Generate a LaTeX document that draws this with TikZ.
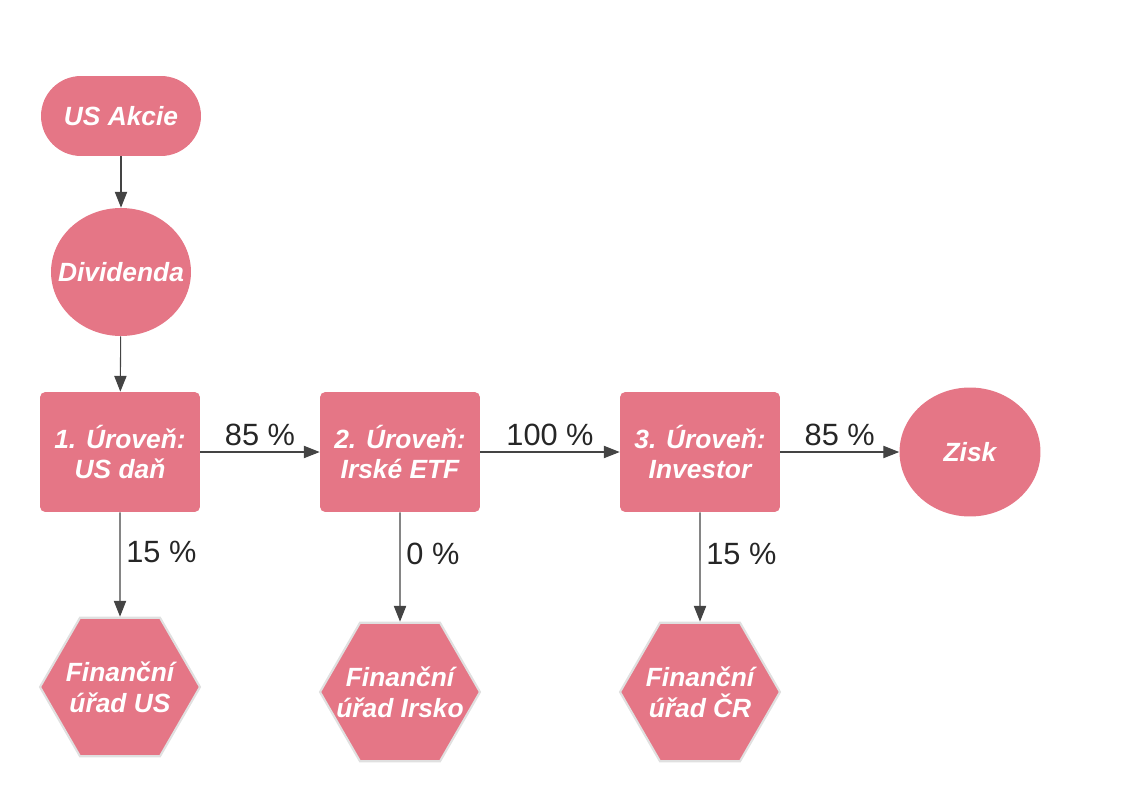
\documentclass[tikz,border=0pt]{standalone}
\usepackage{fontspec}
\setmainfont{Liberation Sans}
\usetikzlibrary{shapes.geometric, arrows.meta}
\definecolor{boxpink}{HTML}{E57686}
\definecolor{linegray}{HTML}{444444}
\begin{document}
\begin{tikzpicture}[x=0.02cm, y=-0.02cm,
		pinkbox/.style={fill=boxpink, draw=none, text=white, font=\fontsize{15}{17.5}\selectfont\bfseries\itshape, align=center, inner sep=0pt},
		stadium/.style={pinkbox, rectangle, rounded corners=0.8cm, minimum width=3.2cm, minimum height=1.6cm},
		level/.style={pinkbox, rectangle, rounded corners=3pt, minimum width=3.2cm, minimum height=2.4cm},
		oval/.style={pinkbox, ellipse, inner sep=-0.4cm, minimum width=2.82cm, minimum height=2.58cm},
		office/.style={pinkbox, regular polygon, regular polygon sides=6, inner sep=-0.6cm, minimum size=3.2cm, draw=black!12, line width=1.2pt},
		flow/.style={draw=linegray, line width=0.6pt, -{Triangle[length=9pt, width=7pt]}},
		pct/.style={font=\fontsize{17.5}{20}\selectfont, text=black!85}
		]
		\useasboundingbox (0,0) rectangle (1126,801);

		\node[stadium](US) at (121,116){US Akcie};
		\node[oval, minimum width=2.8cm, minimum height=2.56cm](DIV) at (121,272){Dividenda};
		\node[level](L1) at (120,452){1. Úroveň:\\US daň};
		\node[level](L2) at (400,452){2. Úroveň:\\Irské ETF};
		\node[level](L3) at (700,452){3. Úroveň:\\Investor};
		\node[oval](ZISK) at (970,452){Zisk};
		\node[office](F1) at (120,687){Finanční\\úřad US};
		\node[office](F2) at (400,692){Finanční\\úřad Irsko};
		\node[office](F3) at (700,692){Finanční\\úřad ČR};

		\draw[flow] (US) -- (DIV);
		\draw[flow] (DIV) -- (L1);
		\draw[flow] (L1) -- node[pct, above]{85 \%} (L2);
		\draw[flow] (L2) -- node[pct, above]{100 \%} (L3);
		\draw[flow] (L3) -- node[pct, above]{85 \%} (ZISK);
		\draw[flow] (L1) -- node[pct, right, pos=0.38]{15 \%} (F1);
		\draw[flow] (L2) -- node[pct, right, pos=0.38]{0 \%} (F2);
		\draw[flow] (L3) -- node[pct, right, pos=0.38]{15 \%} (F3);
	\end{tikzpicture}
\end{document}
